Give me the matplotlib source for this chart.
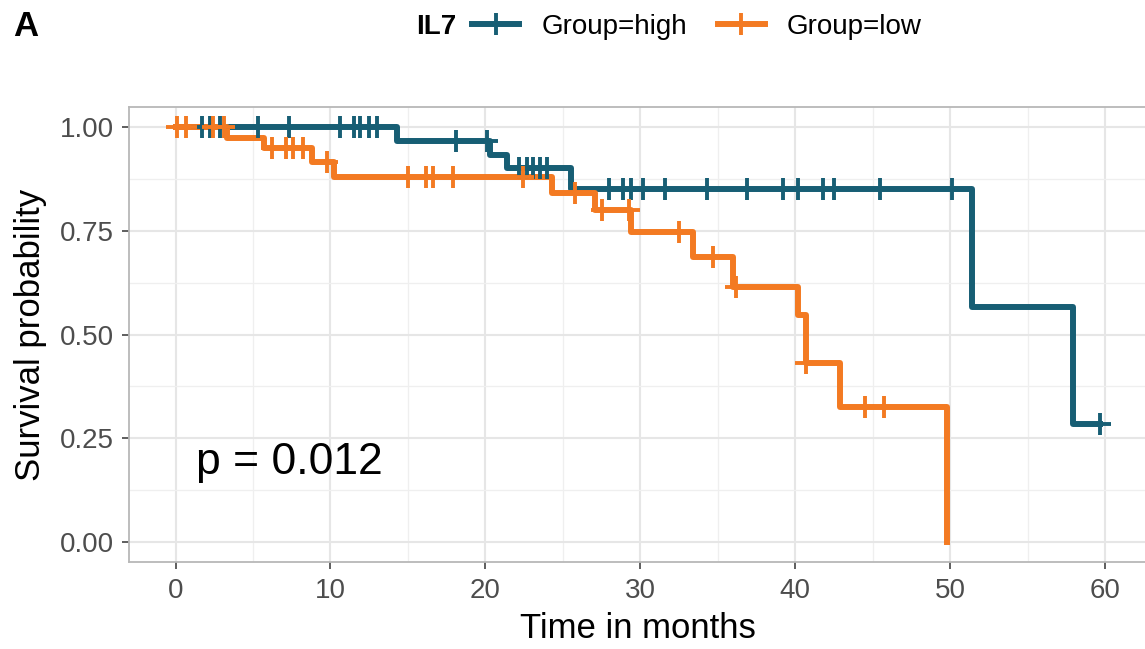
import numpy as np
import matplotlib
matplotlib.use("Agg")
import matplotlib.pyplot as plt
from matplotlib.lines import Line2D

plt.rcParams['font.family'] = ['Liberation Sans', 'DejaVu Sans']

# Kaplan-Meier steps (months, survival)
high_time = [0, 14.3, 20.3, 21.4, 25.5, 51.4, 57.9]
high_surv = [1.0, 0.967, 0.933, 0.902, 0.851, 0.566, 0.284]
high_cens = [1.7, 2.2, 2.9, 5.3, 7.3, 10.6, 11.5, 11.9, 12.5, 13.0, 18.1, 20.1,
             22.2, 22.7, 23.1, 23.5, 24.0, 28.0, 28.9, 29.4, 30.2, 31.6, 34.3,
             36.9, 39.2, 40.2, 41.8, 42.5, 45.5, 50.1, 59.7]

low_time = [0, 3.3, 5.7, 8.8, 10.2, 24.3, 27.1, 29.4, 33.4, 36.0, 40.2, 40.7, 42.9, 49.8]
low_surv = [1.0, 0.974, 0.950, 0.917, 0.880, 0.841, 0.800, 0.748, 0.686, 0.615,
            0.547, 0.431, 0.325, 0.0]
low_cens = [0.1, 0.7, 2.4, 3.1, 6.2, 7.1, 7.6, 8.2, 9.8, 15.0, 16.2, 16.6, 17.9,
            22.4, 25.8, 27.5, 29.3, 32.5, 34.7, 36.2, 40.7, 44.5, 45.7]

groups = ["Group=high", "Group=low"]
colors = ["#175E74", "#F37A22"]
pval = "p = 0.012"


def surv_at(t, times, surv):
    i = np.searchsorted(times, t, side='right') - 1
    return np.asarray(surv)[i]


fig = plt.figure(figsize=(11.45, 6.49), dpi=100)
ax = fig.add_axes([0.1127, 0.1334, 0.893, 0.7023])

data = [(high_time, high_surv, high_cens), (low_time, low_surv, low_cens)]
for (t, s, c), col in zip(data, colors):
    tt = list(t)
    ss = list(s)
    end = max(c)
    if end > tt[-1]:
        tt.append(end)
        ss.append(ss[-1])
    ax.step(tt, ss, where='post', color=col, lw=4.3, solid_joinstyle='round', zorder=3)
for (t, s, c), col in zip(data, colors):
    ax.plot(c, surv_at(np.array(c), t, s), ls='none', marker='+', ms=16, mew=2.8,
            color=col, zorder=4)

ax.text(1.3, 0.19, pval, fontsize=32, va='center', ha='left', color='black')

ax.set_xlim(-3, 63)
ax.set_ylim(-0.05, 1.05)
ax.set_xticks(np.arange(0, 61, 10))
ax.set_xticks(np.arange(5, 61, 10), minor=True)
ax.set_yticks([0, 0.25, 0.5, 0.75, 1.0])
ax.set_yticklabels(["0.00", "0.25", "0.50", "0.75", "1.00"])
ax.set_yticks([0.125, 0.375, 0.625, 0.875], minor=True)
ax.grid(which='major', color='#E6E6E6', lw=1.5)
ax.grid(which='minor', color='#EFEFEF', lw=0.9)
ax.set_axisbelow(True)
ax.tick_params(which='major', length=5, width=1.1, color='#333333',
               labelcolor='#4D4D4D', labelsize=20, pad=6)
ax.tick_params(which='minor', length=0)
for sp in ax.spines.values():
    sp.set_color('#B8B8B8')
    sp.set_linewidth(1.3)

ax.set_xlabel("Time in months", fontsize=25, va='center')
ax.xaxis.set_label_coords(0.4975, -0.144)
ax.set_ylabel("Survival probability", fontsize=25, va='center')
ax.yaxis.set_label_coords(-0.0968, 0.5)

# legend at top
fig.text(13 / 1145, 1 - 27 / 649, "A", fontsize=25, fontweight='bold', va='center', ha='left')
fig.text(416 / 1145, 1 - 27 / 649, "IL7", fontsize=20, fontweight='bold', va='center', ha='left')
handles = [Line2D([], [], color=c, lw=4.3, marker='+', ms=16, mew=2.8) for c in colors]
fig.legend(handles, groups, loc='center left', bbox_to_anchor=(458 / 1145, 1 - 27 / 649),
           ncol=2, frameon=False, fontsize=20, borderpad=0, handlelength=1.7,
           handletextpad=0.8, columnspacing=1.1)

fig.savefig("out.png", dpi=100)
